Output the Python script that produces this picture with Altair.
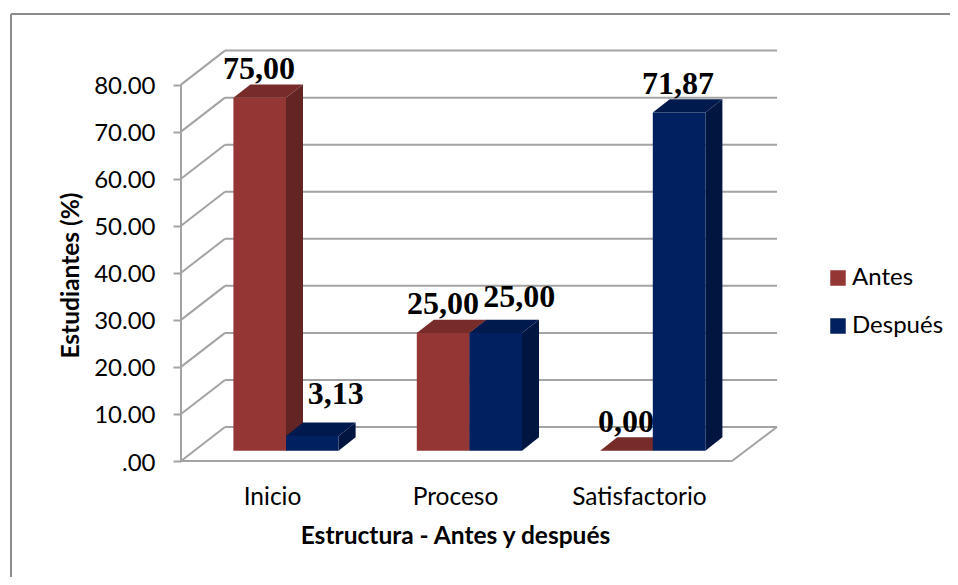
import altair as alt
import pandas as pd

categories = ["Inicio", "Proceso", "Satisfactorio"]
series = ["Antes", "Después"]
antes = [75.00, 25.00, 0.00]
despues = [3.13, 25.00, 71.87]
antes_labels = ["75,00", "25,00", "0,00"]
despues_labels = ["3,13", "25,00", "71,87"]
y_ticks = [0, 10, 20, 30, 40, 50, 60, 70, 80]

# scene geometry (pixels on the page)
PX = 4.705            # pixels per percentage point
Y0, Y_TOP = 461, 50   # page y of value 0 and of the plot top
X_L, X_R = 181, 777   # page x of the axis and of the back wall's end
WALL_DX, WALL_DY = 44, 34
FLOOR_R = 732
BAR_W = 52.6
BAR_LIFT = 10.3
BAR_DX, BAR_DY = 17, 13.4
CAT_X = [233.4, 416.8, 600.2]
LABEL_OFF = {
    ("Antes", 0): (-0.6, 18.7), ("Antes", 1): (0.0, 19.0), ("Antes", 2): (-0.4, 19.0),
    ("Después", 0): (23.5, 32.0), ("Después", 1): (23.6, 26.3), ("Después", 2): (-1.0, 18.9),
}
FILL = {"Antes": "#943634", "Después": "#002060",
        "Antes lado": "#632523", "Después lado": "#001540",
        "Antes techo": "#772C2A", "Después techo": "#001A4D"}
GRID = "#A3A3A3"
SANS = "Lato"
SERIF = "Liberation Serif"


def up(value, px=0.0):
    return value + px / PX


fronts, sides, tops, labels = [], [], [], []
for si, (name, vals, txts) in enumerate(
        [("Antes", antes, antes_labels), ("Después", despues, despues_labels)]):
    for ci, (v, t) in enumerate(zip(vals, txts)):
        l = CAT_X[ci] + si * BAR_W
        r = l + BAR_W
        b = f"{name}{ci}"
        fronts.append(dict(x=l, x2=r, y=up(0, BAR_LIFT), y2=up(v, BAR_LIFT), k=name))
        for x, lo, hi in [(r, up(0, BAR_LIFT), up(v, BAR_LIFT)),
                          (r + BAR_DX, up(0, BAR_LIFT + BAR_DY), up(v, BAR_LIFT + BAR_DY))]:
            sides.append(dict(x=x, y=lo, y2=hi, k=name + " lado", b=b))
        top_lo, top_hi = up(v, BAR_LIFT), up(v, BAR_LIFT + BAR_DY)
        for x, lo, hi in [(l, top_lo, top_lo), (l + BAR_DX, top_lo, top_hi),
                          (r, top_lo, top_hi), (r + BAR_DX, top_hi, top_hi)]:
            tops.append(dict(x=x, y=lo, y2=hi, k=name + " techo", b=b))
        ox, oy = LABEL_OFF[(name, ci)]
        labels.append(dict(x=l + BAR_W / 2 + ox, y=up(v, BAR_LIFT + oy), t=t))

grid = []
for v in y_ticks:
    grid.append(dict(x=X_L, x2=X_L + WALL_DX, y=v, y2=up(v, WALL_DY)))
    grid.append(dict(x=X_L + WALL_DX, x2=X_R, y=up(v, WALL_DY), y2=up(v, WALL_DY)))
grid.append(dict(x=X_L, x2=X_L, y=0, y2=80))
grid.append(dict(x=X_L, x2=FLOOR_R, y=0, y2=0))
grid.append(dict(x=FLOOR_R, x2=X_R, y=0, y2=up(0, WALL_DY)))

border = [
    dict(x=11, x2=11, y=up(0, Y0 - 14), y2=up(0, Y0 - 590)),
    dict(x=11, x2=965, y=up(0, Y0 - 14), y2=up(0, Y0 - 14)),
]

x_scale = alt.Scale(domain=[X_L, X_R], nice=False, zero=False)
y_scale = alt.Scale(domain=[0, (Y0 - Y_TOP) / PX], nice=False, zero=False)
color_scale = alt.Scale(domain=list(FILL), range=list(FILL.values()))

cat_centres = [272.0, 455.0, 639.0]
x_label_expr = "{}[indexof({}, datum.value)]".format(categories, cat_centres)

X = alt.X("x:Q", scale=x_scale, axis=alt.Axis(
    values=cat_centres, labelExpr=x_label_expr, domain=False, ticks=False, grid=False,
    labelFont=SANS, labelFontSize=24.5, labelColor="#000000", labelPadding=24,
    labelOverlap=False, labelFlush=False,
    title="Estructura - Antes y después", titleFont=SANS, titleFontSize=24.5, titleFontWeight="bold",
    titleColor="#000000", titleX=455 - X_L, titleY=524 - Y0))
Y = alt.Y("y:Q", scale=y_scale, axis=alt.Axis(
    values=y_ticks, labelExpr="datum.value == 0 ? '.00' : format(datum.value, '.2f')",
    domain=False, grid=False, tickColor=GRID, tickSize=8, tickWidth=2,
    labelFont=SANS, labelFontSize=24, labelColor="#000000", labelPadding=18, labelOffset=2,
    title="Estudiantes (%)", titleFont=SANS, titleFontSize=24.5, titleFontWeight="bold",
    titleColor="#000000", titleX=83 - X_L, titleY=275 - Y_TOP))
Y2 = alt.Y2("y2:Q")
X2 = alt.X2("x2:Q")

legend = alt.Legend(
    values=series, title=None, orient="none", legendX=826 - X_L, legendY=266 - Y_TOP,
    symbolType="square", symbolSize=240, symbolStrokeWidth=0, labelFont=SANS, labelFontSize=24,
    labelColor="#000000", rowPadding=24, labelOffset=2)
color = alt.Color("k:N", scale=color_scale, legend=legend)

rules = alt.Chart(pd.DataFrame(grid)).mark_rule(color=GRID, strokeWidth=2).encode(X, X2, Y, Y2)
frame = alt.Chart(pd.DataFrame(border)).mark_rule(color="#8C8C8C", strokeWidth=2, clip=False).encode(X, X2, Y, Y2)
side = alt.Chart(pd.DataFrame(sides)).mark_area(orient="vertical").encode(X, Y, Y2, detail="b:N", color=color)
top = alt.Chart(pd.DataFrame(tops)).mark_area(orient="vertical").encode(X, Y, Y2, detail="b:N", color=color)
front = alt.Chart(pd.DataFrame(fronts)).mark_rect().encode(X, X2, Y, Y2, color=color)
text = alt.Chart(pd.DataFrame(labels)).mark_text(
    font=SERIF, fontSize=32, fontWeight="bold", color="#000000", baseline="alphabetic", align="center"
).encode(X, Y, text="t:N")

chart = alt.layer(rules, frame, side, top, front, text).properties(
    width=X_R - X_L, height=Y0 - Y_TOP,
    padding={"left": X_L - 8, "top": Y_TOP - 8, "right": 950 - X_R, "bottom": 577 - Y0},
    autosize=alt.AutoSizeParams(type="none"),
    background="#FFFFFF",
).configure_view(stroke=None)

chart.save("out.html", embed_options={"renderer": "svg", "actions": False})
